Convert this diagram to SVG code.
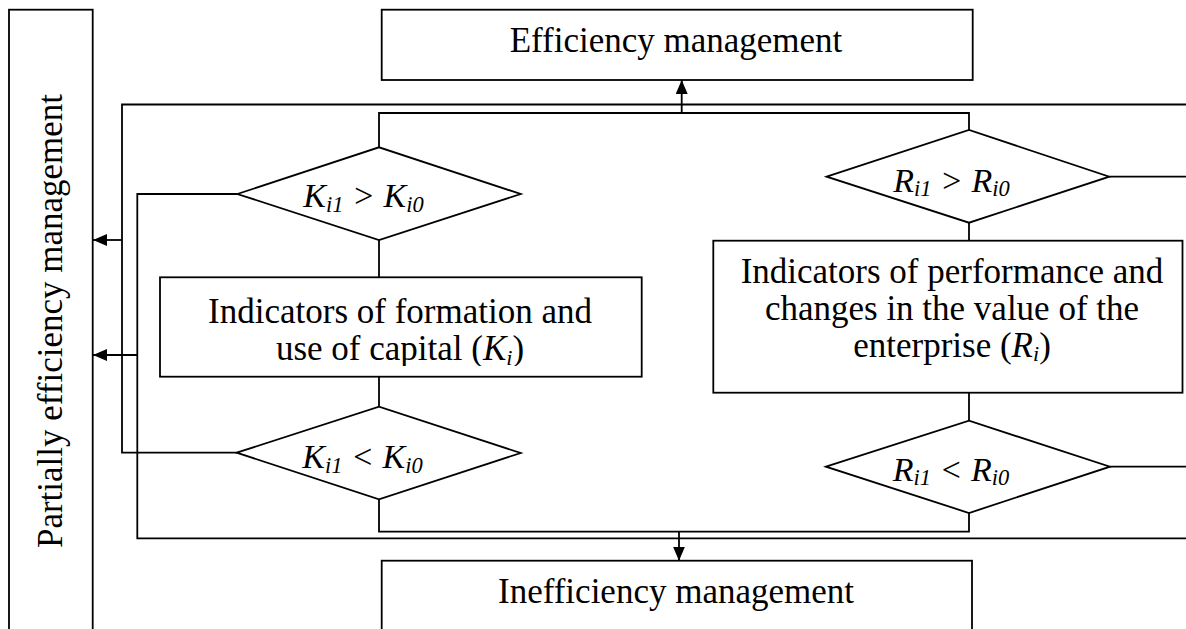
<svg xmlns="http://www.w3.org/2000/svg" width="1186" height="629" viewBox="0 0 1186 629">
<style>
  .box { fill: #fff; stroke: #000; stroke-width: 1.8; }
  .dia { fill: #fff; stroke: #000; stroke-width: 1.8; }
  .ln { fill: none; stroke: #000; stroke-width: 1.8; }
  text { font-family: 'Liberation Serif', 'DejaVu Serif', serif; fill: #000; }
  .t { font-size: 35px; }
  .m { font-size: 34px; font-style: italic; }
  .sub { font-size: 22.5px; font-style: italic; }
  .bsub { font-size: 22px; font-style: italic; }
  .it { font-style: italic; }
</style>
<defs>
  <marker id="ah" viewBox="0 0 14 12" refX="14" refY="6" markerWidth="14" markerHeight="12" orient="auto" markerUnits="userSpaceOnUse">
    <path d="M0,0 L14,6 L0,12 z" fill="#000"/>
  </marker>
  <clipPath id="kclip"><rect x="160" y="277" width="482" height="89"/></clipPath>
</defs>
<rect width="1186" height="629" fill="#fff"/>

<g id="connectors">
  <path class="ln" d="M1186,104.5 H122 V452.7 H236.7"/>
  <path class="ln" d="M237.3,194 H137.3 V538.3 H1186"/>
  <path class="ln" d="M379,147.3 V113 H969 V130"/>
  <path class="ln" d="M379,499.3 V531.7 H969 V513"/>
  <path class="ln" d="M1109.3,176.7 H1186"/>
  <path class="ln" d="M1110,466.7 H1186"/>
  <path class="ln" d="M379,240 V277.3"/>
  <path class="ln" d="M379,376.7 V406.7"/>
  <path class="ln" d="M969,222.7 V240.7"/>
  <path class="ln" d="M969,392.7 V420.7"/>
  <path class="ln" d="M681.7,113 V80" marker-end="url(#ah)"/>
  <path class="ln" d="M679,531.7 V560.7" marker-end="url(#ah)"/>
  <path class="ln" d="M122,240 H93" marker-end="url(#ah)"/>
  <path class="ln" d="M137.3,355 H93" marker-end="url(#ah)"/>
</g>

<g id="partially">
  <rect class="box" x="9" y="9.7" width="83.7" height="640"/>
  <text class="t" transform="translate(61.5,321) rotate(-90)" text-anchor="middle">Partially efficiency management</text>
</g>

<g id="efficiency">
  <rect class="box" x="381.7" y="9.7" width="591" height="70.3"/>
  <text class="t" x="676" y="52" text-anchor="middle">Efficiency management</text>
</g>

<g id="inefficiency">
  <rect class="box" x="381.7" y="560.7" width="590.3" height="90"/>
  <text class="t" x="676" y="602.7" text-anchor="middle">Inefficiency management</text>
</g>

<g id="k-greater">
  <polygon class="dia" points="237.3,194 379,147.3 520.7,194 379,240"/>
  <text class="m" x="363.5" y="207" text-anchor="middle">K<tspan class="sub" dy="4.5">i1</tspan><tspan dy="-4.5"> &gt; K</tspan><tspan class="sub" dy="4.5">i0</tspan></text>
</g>

<g id="k-box">
  <rect class="box" x="160" y="277.3" width="481.7" height="99.4"/>
  <g clip-path="url(#kclip)">
    <text class="t" x="400" y="322.7" text-anchor="middle">Indicators of formation and</text>
    <text class="t" x="400" y="360" text-anchor="middle">use of capital (<tspan class="it">K</tspan><tspan class="bsub" dy="4.5">i</tspan><tspan dy="-4.5">)</tspan></text>
  </g>
</g>

<g id="k-less">
  <polygon class="dia" points="236.7,452.7 379,406.7 520.7,453 379,499.3"/>
  <text class="m" x="362.5" y="468.3" text-anchor="middle">K<tspan class="sub" dy="4.5">i1</tspan><tspan dy="-4.5"> &lt; K</tspan><tspan class="sub" dy="4.5">i0</tspan></text>
</g>

<g id="r-greater">
  <polygon class="dia" points="826.7,176.7 969,130 1109.3,176.7 969,222.7"/>
  <text class="m" x="951.5" y="191.7" text-anchor="middle">R<tspan class="sub" dy="4.5">i1</tspan><tspan dy="-4.5"> &gt; R</tspan><tspan class="sub" dy="4.5">i0</tspan></text>
</g>

<g id="r-box">
  <rect class="box" x="713.3" y="240.7" width="469.2" height="152"/>
  <text class="t" x="952" y="283.3" text-anchor="middle">Indicators of performance and</text>
  <text class="t" x="952" y="320" text-anchor="middle">changes in the value of the</text>
  <text class="t" x="952" y="356.7" text-anchor="middle">enterprise (<tspan class="it">R</tspan><tspan class="bsub" dy="4.5">i</tspan><tspan dy="-4.5">)</tspan></text>
</g>

<g id="r-less">
  <polygon class="dia" points="826,466.7 969,420.7 1110,466.7 969,513"/>
  <text class="m" x="951" y="480.7" text-anchor="middle">R<tspan class="sub" dy="4.5">i1</tspan><tspan dy="-4.5"> &lt; R</tspan><tspan class="sub" dy="4.5">i0</tspan></text>
</g>
</svg>
